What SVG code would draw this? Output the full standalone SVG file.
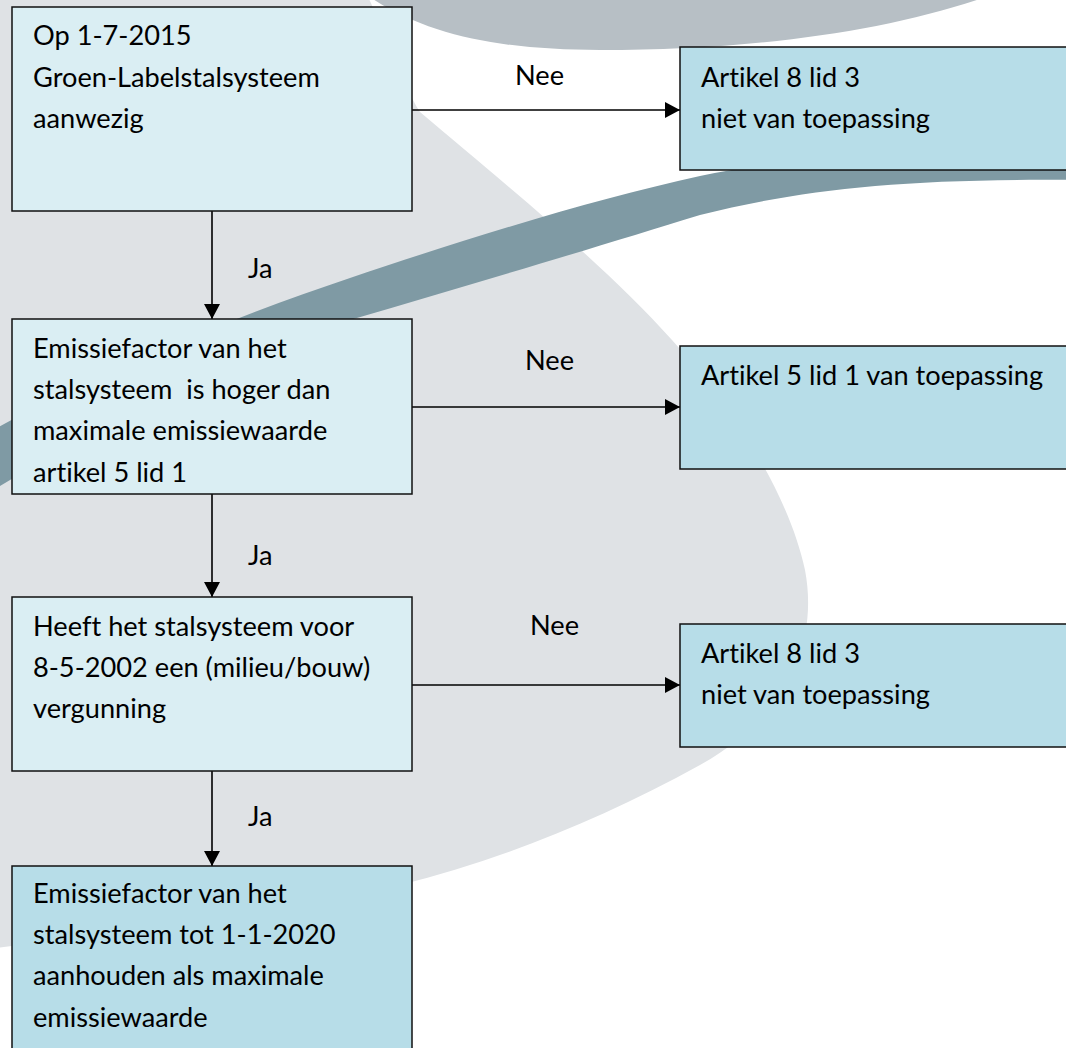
<svg xmlns="http://www.w3.org/2000/svg" width="1066" height="1048" viewBox="0 0 1066 1048">
<defs>
<style>
.t{font-family:Lato,"Open Sans","Liberation Sans",sans-serif;font-size:27.2px;fill:#000;font-variant-ligatures:none;font-feature-settings:"liga" 0,"clig" 0}
.box{fill:#DAEEF3;stroke:#111;stroke-width:1.5}
.box2{fill:#B7DDE8;stroke:#111;stroke-width:1.5}
.con{stroke:#000;stroke-width:1.6;fill:none}
</style>
<marker id="ah" markerUnits="userSpaceOnUse" markerWidth="16" markerHeight="16" refX="15" refY="8" orient="auto">
<path d="M0,0 L15,8 L0,16 Z" fill="#000"/>
</marker>
</defs>
<rect width="1066" height="1048" fill="#fff"/>
<g id="background">
<path d="M-20,-20 L360,-20 C385,30 400,80 420,112 C500,180 600,260 672,340 C740,415 790,500 805,570 C820,650 780,720 700,765 C600,820 500,860 400,885 C250,915 100,935 -20,950 Z" fill="#DFE2E5"/>
<path d="M360,-10 C420,35 500,50 600,50 C760,50 900,30 1005,-10 Z" fill="#B7BFC5"/>
<path d="M1080,135 C900,145 780,160 700,176 C600,198 480,234 350,278 C230,318 80,380 -10,432 L-10,492 C60,450 200,370 350,320 C480,282 600,246 700,215 C800,190 900,178 1080,180 Z" fill="#7F9AA4"/>
</g>
<g id="connectors">
<line class="con" x1="412" y1="110" x2="680" y2="110" marker-end="url(#ah)"/>
<line class="con" x1="412" y1="407" x2="680" y2="407" marker-end="url(#ah)"/>
<line class="con" x1="412" y1="685" x2="680" y2="685" marker-end="url(#ah)"/>
<line class="con" x1="212" y1="211" x2="212" y2="319" marker-end="url(#ah)"/>
<line class="con" x1="212" y1="494" x2="212" y2="597" marker-end="url(#ah)"/>
<line class="con" x1="212" y1="771" x2="212" y2="866" marker-end="url(#ah)"/>
<text class="t" x="515" y="85">Nee</text>
<text class="t" x="525" y="370">Nee</text>
<text class="t" x="530" y="635">Nee</text>
<text class="t" x="248" y="278">Ja</text>
<text class="t" x="248" y="565">Ja</text>
<text class="t" x="248" y="826">Ja</text>
</g>
<g id="n1">
<rect class="box" x="12" y="7" width="400" height="204"/>
<text class="t" x="33" y="45">Op 1-7-2015</text>
<text class="t" x="33" y="87">Groen-Labelstalsysteem</text>
<text class="t" x="33" y="128">aanwezig</text>
</g>
<g id="r1">
<rect class="box2" x="680" y="47" width="400" height="123"/>
<text class="t" x="701" y="87">Artikel 8 lid 3</text>
<text class="t" x="701" y="128">niet van toepassing</text>
</g>
<g id="n2">
<rect class="box" x="12" y="319" width="400" height="175"/>
<text class="t" x="33" y="358">Emissiefactor van het</text>
<text class="t" x="33" y="399" xml:space="preserve">stalsysteem  is hoger dan</text>
<text class="t" x="33" y="440">maximale emissiewaarde</text>
<text class="t" x="33" y="482">artikel 5 lid 1</text>
</g>
<g id="r2">
<rect class="box2" x="680" y="346" width="400" height="123"/>
<text class="t" x="701" y="385">Artikel 5 lid 1 van toepassing</text>
</g>
<g id="n3">
<rect class="box" x="12" y="597" width="400" height="174"/>
<text class="t" x="33" y="636">Heeft het stalsysteem voor</text>
<text class="t" x="33" y="677">8-5-2002 een (milieu/bouw)</text>
<text class="t" x="33" y="718">vergunning</text>
</g>
<g id="r3">
<rect class="box2" x="680" y="624" width="400" height="123"/>
<text class="t" x="701" y="663">Artikel 8 lid 3</text>
<text class="t" x="701" y="704">niet van toepassing</text>
</g>
<g id="n4">
<rect class="box2" x="12" y="866" width="400" height="200"/>
<text class="t" x="33" y="903">Emissiefactor van het</text>
<text class="t" x="33" y="944">stalsysteem tot 1-1-2020</text>
<text class="t" x="33" y="985">aanhouden als maximale</text>
<text class="t" x="33" y="1027">emissiewaarde</text>
</g>
</svg>
